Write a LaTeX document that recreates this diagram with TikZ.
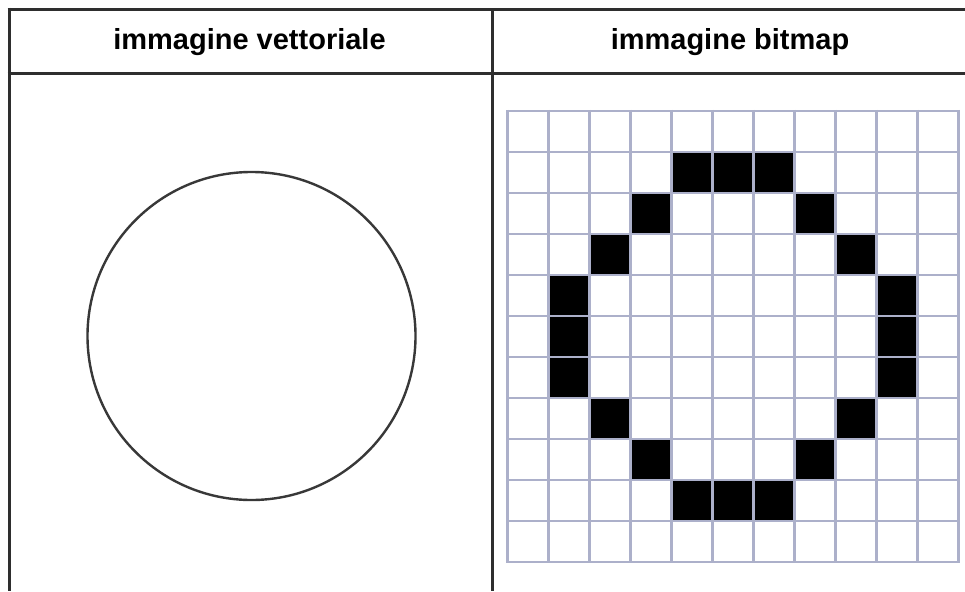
\documentclass[tikz,border=0pt]{standalone}
\usepackage{fontspec}
\setmainfont{Liberation Sans}
\begin{document}
\begin{tikzpicture}[x=1pt,y=-1pt,
  tableline/.style={draw=black!82,line width=3pt},
  gridline/.style={draw={rgb,255:red,172;green,176;blue,202},line width=2.3pt},
  header/.style={font=\fontsize{29}{33}\selectfont\bfseries,text=black,inner sep=0pt,anchor=base}]
\useasboundingbox (0,0) rectangle (965,591);
\fill[white] (0,0) rectangle (965,591);
% table lines
\draw[tableline] (7.5,9.5) -- (965,9.5);
\draw[tableline] (7.5,74) -- (965,74);
\draw[tableline] (9,8) -- (9,591);
\draw[tableline] (492,9.5) -- (492,591);
% headers
\node[header] (h1) at (249.5,50) {immagine vettoriale};
\node[header] (h2) at (730,50) {immagine bitmap};
% vector circle
\draw[draw=black!78,line width=2.4pt] (251.5,336) circle (164);
% bitmap cells
\foreach \c/\r in {4/1,5/1,6/1,3/2,7/2,2/3,8/3,1/4,9/4,1/5,9/5,1/6,9/6,2/7,8/7,3/8,7/8,4/9,5/9,6/9}
  \fill[black] ({507.5+41*\c},{111+41*\r}) rectangle ++(41,41);
\foreach \i in {0,...,11} {
  \draw[gridline] ({507.5+41*\i},110) -- ({507.5+41*\i},563);
  \draw[gridline] (506.5,{111+41*\i}) -- (959.5,{111+41*\i});
}
\end{tikzpicture}
\end{document}
